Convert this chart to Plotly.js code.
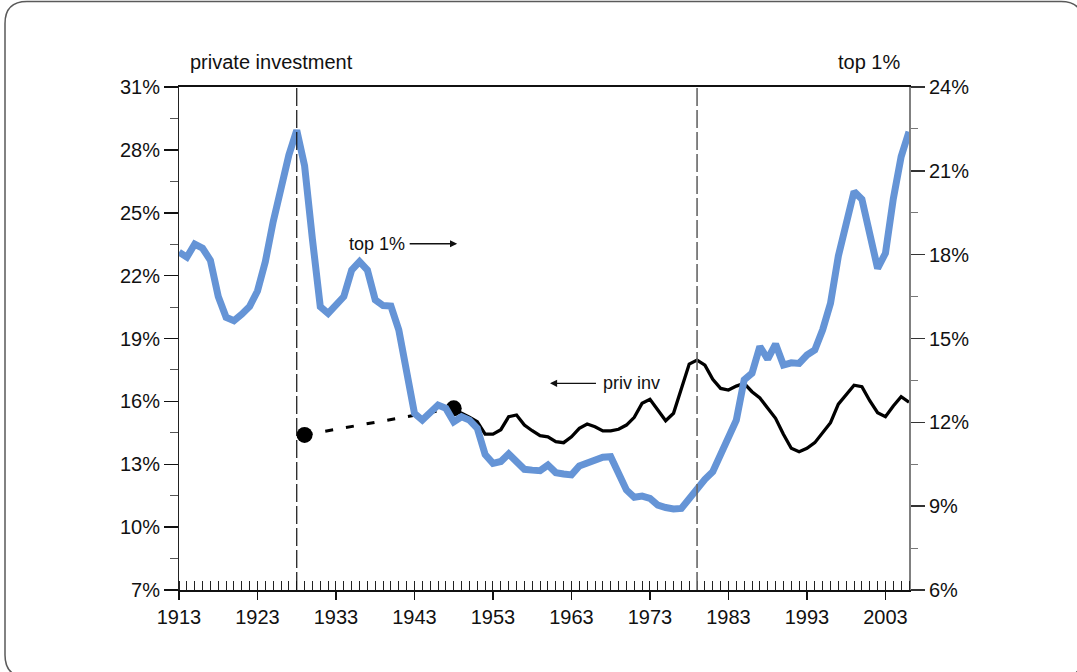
<!DOCTYPE html>
<html>
<head>
<meta charset="utf-8">
<script src="https://cdn.plot.ly/plotly-3.0.1.min.js"></script>
<style>
  html, body { margin: 0; padding: 0; background: #fff; }
  #chart { width: 1077px; height: 672px; }
</style>
</head>
<body>
<div id="chart"></div>
<script>
// ---- data ----
const top1Years = [];
for (let yr = 1913; yr <= 2006; yr++) top1Years.push(yr);
const top1Share = [
  18.09, 17.91, 18.38, 18.23, 17.80, 16.50, 15.76, 15.64, 15.87, 16.15,   // 1913-1922
  16.70, 17.75, 19.18, 20.43, 21.57, 22.45, 21.18, 18.55, 16.14, 15.90,   // 1923-1932
  16.20, 16.50, 17.45, 17.75, 17.45, 16.38, 16.18, 16.16, 15.31, 13.87,   // 1933-1942
  12.32, 12.08, 12.38, 12.62, 12.50, 12.02, 12.20, 12.08, 11.79, 10.85,   // 1943-1952
  10.53, 10.60, 10.87, 10.60, 10.32, 10.29, 10.27, 10.47, 10.20, 10.15,   // 1953-1962
  10.12, 10.44, 10.53, 10.65, 10.75, 10.77, 10.18, 9.58, 9.32, 9.36,      // 1963-1972
  9.28, 9.04, 8.95, 8.90, 8.92, 9.28, 9.64, 9.96, 10.23, 10.83,           // 1973-1982
  11.49, 12.08, 13.52, 13.76, 14.71, 14.26, 14.80, 14.05, 14.13, 14.11,   // 1983-1992
  14.41, 14.59, 15.31, 16.26, 17.95, 19.17, 20.26, 19.98, 18.77, 17.51,   // 1993-2002
  18.05, 20.00, 21.51, 22.40                                              // 2003-2006
];

const privInvYears = [1929];
for (let yr = 1948; yr <= 2006; yr++) privInvYears.push(yr);
const privInv = [
  14.40,                                                                  // 1929
  15.67, 15.43, 15.24, 15.03, 14.44,                                      // 1948-1952
  14.44, 14.65, 15.27, 15.35, 14.87, 14.60, 14.36, 14.31, 14.08, 14.03,   // 1953-1962
  14.31, 14.71, 14.92, 14.79, 14.59, 14.59, 14.67, 14.87, 15.24, 15.91,   // 1963-1972
  16.10, 15.59, 15.08, 15.43, 16.62, 17.78, 17.97, 17.73, 17.05, 16.62,   // 1973-1982
  16.54, 16.73, 16.86, 16.46, 16.16, 15.70, 15.19, 14.43, 13.76, 13.60,   // 1983-1992
  13.76, 14.03, 14.51, 14.98, 15.87, 16.30, 16.77, 16.70, 16.03, 15.46,   // 1993-2002
  15.27, 15.78, 16.22, 15.96                                              // 2003-2006
];

const xTickVals = [1913, 1923, 1933, 1943, 1953, 1963, 1973, 1983, 1993, 2003];
const leftTickVals = [7, 10, 13, 16, 19, 22, 25, 28, 31];
const leftTickText = ['7%', '10%', '13%', '16%', '19%', '22%', '25%', '28%', '31%'];
const rightTickVals = [6, 9, 12, 15, 18, 21, 24];
const rightTickText = ['6%', '9%', '12%', '15%', '18%', '21%', '24%'];
const eventYears = [1928, 1979];

// ---- geometry helpers (pixel -> paper) ----
const W = 1077, H = 672;
const M = {l: 179, r: 168, t: 87, b: 82};
const PW = W - M.l - M.r, PH = H - M.t - M.b;
const px = v => (v - M.l) / PW;
const py = v => (H - M.b - v) / PH;

const BLUE = '#6594d6';
const FONT = '"Liberation Sans", Arial, Helvetica, sans-serif';

const traces = [
  { // dashed gap link 1929 -> 1948
    x: privInvYears.slice(0, 2), y: privInv.slice(0, 2),
    xaxis: 'x', yaxis: 'y', mode: 'lines',
    line: {color: '#000', width: 3, dash: '8px,13px'},
    hoverinfo: 'skip'
  },
  { // top 1% (right axis)
    x: top1Years, y: top1Share, xaxis: 'x', yaxis: 'y2', mode: 'lines',
    line: {color: BLUE, width: 7, shape: 'linear'}, name: 'top 1%'
  },
  { // private investment (left axis)
    x: privInvYears.slice(1), y: privInv.slice(1), xaxis: 'x', yaxis: 'y', mode: 'lines',
    line: {color: '#000', width: 3.3}, name: 'priv inv'
  },
  { // endpoints of the dashed link
    x: privInvYears.slice(0, 2), y: privInv.slice(0, 2), xaxis: 'x', yaxis: 'y',
    mode: 'markers', marker: {color: '#000', size: 16, symbol: 'circle'},
    hoverinfo: 'skip'
  }
];

// rounded frame
const fl = 5, ft = 1.5, fr = 1083, fb = 677, rad = 22;
const framePath =
  `M ${px(fl)},${py(ft + rad)} Q ${px(fl)},${py(ft)} ${px(fl + rad)},${py(ft)} ` +
  `L ${px(fr - rad)},${py(ft)} Q ${px(fr)},${py(ft)} ${px(fr)},${py(ft + rad)} ` +
  `L ${px(fr)},${py(fb - rad)} Q ${px(fr)},${py(fb)} ${px(fr - rad)},${py(fb)} ` +
  `L ${px(fl + rad)},${py(fb)} Q ${px(fl)},${py(fb)} ${px(fl)},${py(fb - rad)} Z`;

const shapes = [
  {type: 'path', xref: 'paper', yref: 'paper', path: framePath,
   line: {color: '#5a5a5a', width: 1.5}, fillcolor: 'rgba(0,0,0,0)', layer: 'above'},
  {type: 'line', xref: 'x', yref: 'paper', x0: eventYears[0], x1: eventYears[0], y0: 0, y1: 1,
   line: {color: '#111', width: 1.2, dash: '18px,4px'}, layer: 'above'},
  {type: 'line', xref: 'x', yref: 'paper', x0: eventYears[1], x1: eventYears[1], y0: 0, y1: 1,
   line: {color: '#666', width: 1.6, dash: '18px,4px'}, layer: 'above'}
];

const annotations = [
  {xref: 'paper', yref: 'paper', x: px(188), y: py(62), xanchor: 'left', yanchor: 'middle',
   text: 'private investment', showarrow: false, font: {family: FONT, size: 20, color: '#111'}},
  {xref: 'paper', yref: 'paper', x: px(902), y: py(62), xanchor: 'right', yanchor: 'middle',
   text: 'top 1%', showarrow: false, font: {family: FONT, size: 20, color: '#111'}},
  {xref: 'x', yref: 'y2', x: 1948.44, y: 18.39, ax: -80, ay: 0, axref: 'pixel', ayref: 'pixel',
   text: 'top 1%', showarrow: true, arrowhead: 2, arrowsize: 1.1, arrowwidth: 1.3, arrowcolor: '#111',
   startstandoff: 3, font: {family: FONT, size: 18, color: '#111'}},
  {xref: 'x', yref: 'y', x: 1960.26, y: 16.86, ax: 82, ay: 0, axref: 'pixel', ayref: 'pixel',
   text: 'priv inv', showarrow: true, arrowhead: 2, arrowsize: 1.1, arrowwidth: 1.3, arrowcolor: '#111',
   startstandoff: 6, font: {family: FONT, size: 18, color: '#111'}}
];

const layout = {
  width: W, height: H,
  margin: {l: M.l, r: M.r, t: M.t, b: M.b, pad: 0},
  paper_bgcolor: '#fff', plot_bgcolor: '#fff',
  showlegend: false,
  font: {family: FONT, size: 20, color: '#111'},
  xaxis: {
    range: [1913, 2006], tickmode: 'array', tickvals: xTickVals,
    ticks: 'outside', ticklen: 8, tickwidth: 1.5, tickcolor: '#111',
    minor: {tickmode: 'linear', tick0: 1913, dtick: 1, ticks: 'inside', ticklen: 9, tickwidth: 1, tickcolor: '#222'},
    showline: true, linecolor: '#111', linewidth: 2, mirror: true,
    showgrid: false, zeroline: false, tickfont: {family: FONT, size: 20, color: '#111'}
  },
  yaxis: {
    range: [7, 31], tickmode: 'array', tickvals: leftTickVals, ticktext: leftTickText,
    ticks: 'outside', ticklen: 14, tickwidth: 1.5, tickcolor: '#111',
    minor: {tickmode: 'linear', tick0: 7, dtick: 1.5, ticks: 'outside', ticklen: 8, tickwidth: 1, tickcolor: '#555'},
    showline: true, linecolor: '#222', linewidth: 1,
    showgrid: false, zeroline: false, tickfont: {family: FONT, size: 20, color: '#111'}
  },
  yaxis2: {
    overlaying: 'y', side: 'right', anchor: 'x', range: [6, 24],
    tickmode: 'array', tickvals: rightTickVals, ticktext: rightTickText,
    ticks: 'outside', ticklen: 14, tickwidth: 1.5, tickcolor: '#333',
    minor: {tickmode: 'linear', tick0: 6, dtick: 1.5, ticks: 'outside', ticklen: 7, tickwidth: 1, tickcolor: '#777'},
    showline: true, linecolor: '#808080', linewidth: 2,
    showgrid: false, zeroline: false, tickfont: {family: FONT, size: 20, color: '#111'}
  },
  shapes: shapes,
  annotations: annotations
};

Plotly.newPlot('chart', traces, layout, {staticPlot: true, displayModeBar: false});
</script>
</body>
</html>
